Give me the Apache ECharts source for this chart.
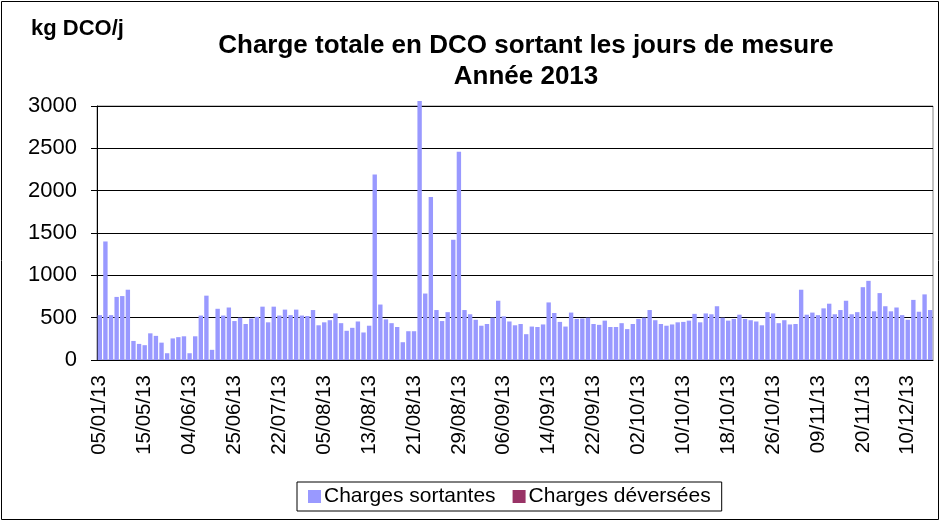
<!DOCTYPE html>
<html>
<head>
	<meta charset="utf-8">
	<title>echarts</title>
	<script type="text/javascript" src="https://cdn.jsdelivr.net/npm/echarts@6/dist/echarts.min.js"></script>
	<style>
		body { margin: 0; background: #fff; }
	</style>
</head>
<body>
	<div id="mychar" style="width: 941px;height:522px;"></div>

	<script type="text/javascript">
		// jours de mesure (une étiquette sur 8 est affichée)
		var dates = [
			'05/01/13','17/01/13','02/02/13','14/02/13','05/03/13','20/03/13','10/04/13','25/04/13',
			'15/05/13','17/05/13','20/05/13','22/05/13','24/05/13','27/05/13','29/05/13','31/05/13',
			'04/06/13','06/06/13','09/06/13','11/06/13','13/06/13','17/06/13','19/06/13','21/06/13',
			'25/06/13','28/06/13','02/07/13','05/07/13','09/07/13','12/07/13','16/07/13','19/07/13',
			'22/07/13','24/07/13','26/07/13','28/07/13','30/07/13','31/07/13','01/08/13','03/08/13',
			'05/08/13','06/08/13','07/08/13','08/08/13','09/08/13','10/08/13','11/08/13','12/08/13',
			'13/08/13','14/08/13','15/08/13','16/08/13','17/08/13','18/08/13','19/08/13','20/08/13',
			'21/08/13','22/08/13','23/08/13','24/08/13','25/08/13','26/08/13','27/08/13','28/08/13',
			'29/08/13','30/08/13','31/08/13','01/09/13','02/09/13','03/09/13','04/09/13','05/09/13',
			'06/09/13','07/09/13','08/09/13','09/09/13','10/09/13','11/09/13','12/09/13','13/09/13',
			'14/09/13','15/09/13','16/09/13','17/09/13','18/09/13','19/09/13','20/09/13','21/09/13',
			'22/09/13','23/09/13','24/09/13','25/09/13','26/09/13','28/09/13','29/09/13','30/09/13',
			'02/10/13','03/10/13','04/10/13','05/10/13','06/10/13','07/10/13','08/10/13','09/10/13',
			'10/10/13','11/10/13','12/10/13','13/10/13','14/10/13','15/10/13','16/10/13','17/10/13',
			'18/10/13','19/10/13','20/10/13','21/10/13','22/10/13','23/10/13','24/10/13','25/10/13',
			'26/10/13','27/10/13','28/10/13','29/10/13','31/10/13','02/11/13','05/11/13','07/11/13',
			'09/11/13','10/11/13','11/11/13','12/11/13','14/11/13','16/11/13','17/11/13','18/11/13',
			'20/11/13','22/11/13','25/11/13','27/11/13','29/11/13','02/12/13','04/12/13','06/12/13',
			'10/12/13','13/12/13','17/12/13','20/12/13','27/12/13'
		];

		// kg DCO/j
		var chargesSortantes = [
			530,1400,530,745,755,830,225,190,
			175,315,285,205,80,255,270,280,
			80,280,525,760,120,605,525,620,
			460,500,425,490,510,630,445,630,
			525,595,530,595,525,520,590,410,
			445,470,550,435,345,380,455,325,
			405,2190,655,480,435,390,210,340,
			340,3060,785,1925,590,460,565,1420,
			2460,590,540,475,405,425,500,700,
			515,455,410,425,305,395,390,420,
			680,555,450,395,560,485,490,500,
			425,415,465,390,390,435,365,425,
			485,500,590,470,425,405,420,445,
			450,465,545,445,550,540,635,500,
			465,485,535,485,470,455,410,565,
			550,435,470,420,425,830,535,560,
			530,610,665,540,590,700,540,565,
			860,935,575,790,635,575,620,530,
			475,710,570,775,590
		];

		// aucune charge déversée sur l'année
		var chargesDeversees = [];

		var yTicks = [0, 500, 1000, 1500, 2000, 2500, 3000];

		var police = 'Liberation Sans, Arial, sans-serif';

		var mychar = echarts.init(document.getElementById("mychar"));
		var option = {
			backgroundColor: '#fff',
			animation: false,
			title: {
				text: 'Charge totale en DCO sortant les jours de mesure\nAnnée 2013',
				left: 521,
				top: 25,
				textAlign: 'center',
				textStyle: {
					fontFamily: police,
					fontSize: 26,
					fontWeight: 'bold',
					color: '#000',
					lineHeight: 31
				}
			},
			graphic: [
				{
					type: 'rect',
					shape: { x: 1.5, y: 1.5, width: 937, height: 518 },
					style: { fill: null, stroke: '#000', lineWidth: 1 },
					silent: true
				},
				{
					type: 'text',
					left: 31,
					top: 18,
					style: {
						text: 'kg DCO/j',
						font: 'bold 22px ' + police,
						fill: '#000'
					}
				}
			],
			legend: {
				data: ['Charges sortantes', 'Charges déversées'],
				left: 297,
				top: 482,
				padding: [4, 11, 4, 11],
				itemGap: 17,
				itemWidth: 13,
				itemHeight: 13,
				icon: 'rect',
				borderColor: '#000',
				borderWidth: 1,
				textStyle: {
					fontFamily: police,
					fontSize: 21,
					color: '#000',
					padding: [0, 0, 0, -2]
				}
			},
			grid: {
				left: 97,
				right: 8,
				top: 106,
				bottom: 162,
				show: true,
				borderColor: '#888',
				borderWidth: 1
			},
			xAxis: {
				type: 'category',
				data: dates,
				axisLine: { lineStyle: { color: '#000', width: 1 } },
				axisTick: { interval: 0, length: 6, lineStyle: { color: '#000' } },
				axisLabel: {
					interval: 7,
					rotate: 90,
					margin: 15,
					fontFamily: police,
					fontSize: 20.5,
					color: '#000'
				}
			},
			yAxis: {
				type: 'value',
				min: yTicks[0],
				max: yTicks[yTicks.length - 1],
				interval: 500,
				axisLine: { show: true, lineStyle: { color: '#000', width: 1 } },
				axisTick: { show: true, length: 6, lineStyle: { color: '#000' } },
				splitLine: { lineStyle: { color: '#000', width: 1 } },
				axisLabel: {
					margin: 20,
					fontFamily: police,
					fontSize: 22,
					color: '#000',
					formatter: function (v) { return String(v); }
				}
			},
			series: [
				{
					name: 'Charges sortantes',
					type: 'bar',
					stack: 'charges',
					clip: false,
					barCategoryGap: '22%',
					itemStyle: { color: '#9999FF' },
					data: chargesSortantes
				},
				{
					name: 'Charges déversées',
					type: 'bar',
					stack: 'charges',
					itemStyle: { color: '#993366' },
					data: chargesDeversees
				}
			]
		};

		mychar.setOption(option);
	</script>
</body>
</html>
